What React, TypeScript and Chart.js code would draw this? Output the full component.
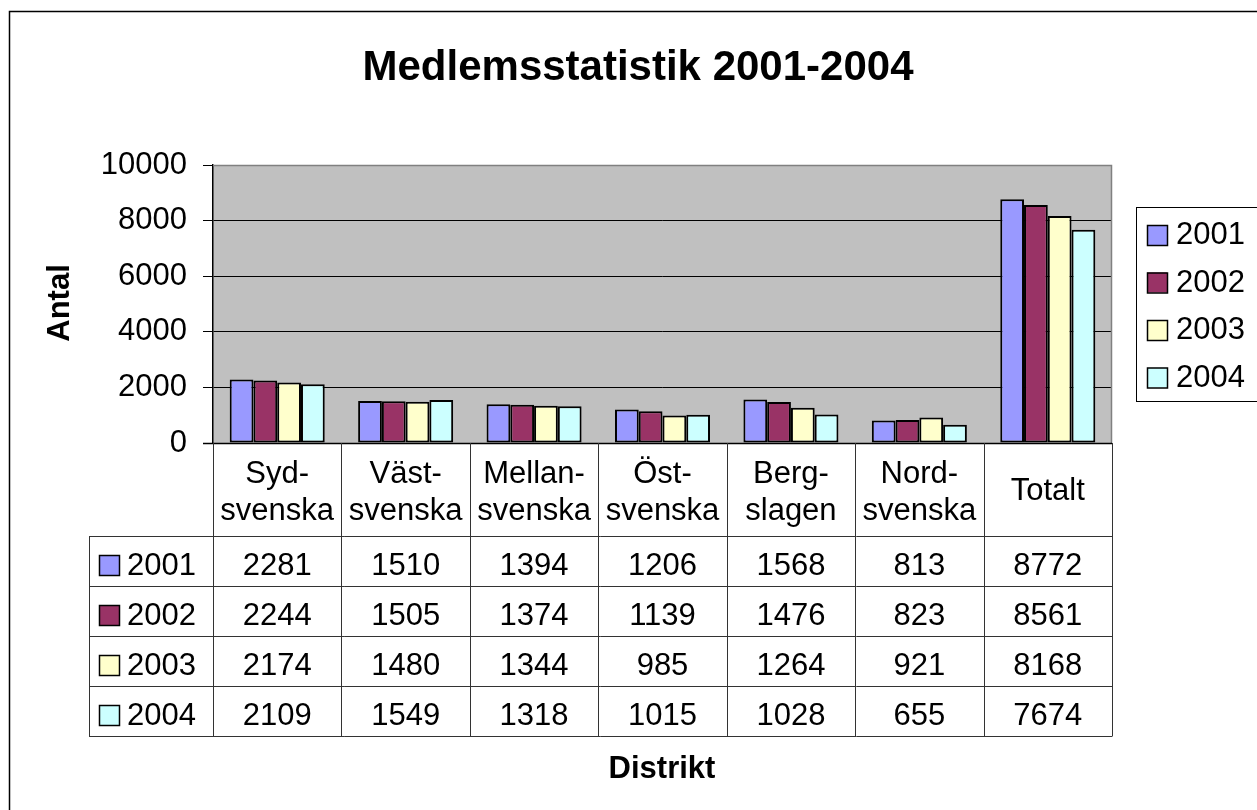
import React, { useEffect, useRef } from "react";
import { Chart, registerables } from "chart.js";
Chart.register(...registerables);

const titleText = "Medlemsstatistik 2001-2004";
const yTitle = "Antal";
const xTitle = "Distrikt";
const categories: string[][] = [
  ["Syd-", "svenska"],
  ["Väst-", "svenska"],
  ["Mellan-", "svenska"],
  ["Öst-", "svenska"],
  ["Berg-", "slagen"],
  ["Nord-", "svenska"],
  ["Totalt"],
];
const seriesNames = ["2001", "2002", "2003", "2004"];
const values2001 = [2281, 1510, 1394, 1206, 1568, 813, 8772];
const values2002 = [2244, 1505, 1374, 1139, 1476, 823, 8561];
const values2003 = [2174, 1480, 1344, 985, 1264, 921, 8168];
const values2004 = [2109, 1549, 1318, 1015, 1028, 655, 7674];
const seriesValues = [values2001, values2002, values2003, values2004];
const seriesColors = ["#9999FF", "#993366", "#FFFFCC", "#CCFFFF"];
const yMin = 0;
const yMax = 10000;
const yStep = 2000;

const FONT = "'Liberation Sans', Arial, sans-serif";
const FS = 31;

const chromePlugin = {
  id: "chrome",
  beforeDraw(chart: any) {
    const { ctx, chartArea: a } = chart;
    ctx.save();
    ctx.fillStyle = "#ffffff";
    ctx.fillRect(0, 0, chart.width, chart.height);
    ctx.fillStyle = "#C0C0C0";
    ctx.fillRect(a.left, a.top, a.right - a.left, a.bottom - a.top);
    ctx.restore();
  },
  afterDraw(chart: any) {
    const { ctx, chartArea: a } = chart;
    const xs = chart.scales.x;
    const n = categories.length;
    const colW = (a.right - a.left) / n;
    ctx.save();

    // outer chart border
    ctx.strokeStyle = "#000";
    ctx.lineWidth = 1.5;
    ctx.beginPath();
    ctx.moveTo(9.5, chart.height + 5);
    ctx.lineTo(9.5, 11.5);
    ctx.lineTo(chart.width + 5, 11.5);
    ctx.stroke();

    // plot area border (gray top + right)
    ctx.strokeStyle = "#808080";
    ctx.lineWidth = 1.5;
    ctx.beginPath();
    ctx.moveTo(a.left, a.top + 0.5);
    ctx.lineTo(a.right - 0.5, a.top + 0.5);
    ctx.lineTo(a.right - 0.5, a.bottom);
    ctx.stroke();

    // x axis line
    ctx.strokeStyle = "#000";
    ctx.lineWidth = 1.5;
    ctx.beginPath();
    ctx.moveTo(a.left - 10, Math.round(a.bottom) + 0.5);
    ctx.lineTo(a.right, Math.round(a.bottom) + 0.5);
    ctx.stroke();

    // data table
    const tableTop = Math.round(a.bottom);
    const headerBottom = 536;
    const rowH = 50;
    const tableBottom = headerBottom + rowH * seriesNames.length;
    const tableLeft = 89;
    ctx.strokeStyle = "#333";
    ctx.lineWidth = 1;
    ctx.beginPath();
    for (let i = 0; i <= n; i++) {
      const x = Math.round(a.left + i * colW) + 0.5;
      ctx.moveTo(x, tableTop);
      ctx.lineTo(x, tableBottom);
    }
    for (let r = 0; r <= seriesNames.length; r++) {
      const y = headerBottom + r * rowH + 0.5;
      ctx.moveTo(tableLeft, y);
      ctx.lineTo(Math.round(a.right) + 0.5, y);
    }
    ctx.moveTo(tableLeft + 0.5, headerBottom);
    ctx.lineTo(tableLeft + 0.5, tableBottom);
    ctx.stroke();

    ctx.fillStyle = "#000";
    ctx.font = `${FS}px ${FONT}`;
    ctx.textAlign = "center";
    ctx.textBaseline = "alphabetic";
    categories.forEach((lines, i) => {
      const cx = xs.getPixelForValue(i);
      if (lines.length === 1) {
        ctx.fillText(lines[0], cx, 500);
      } else {
        ctx.fillText(lines[0], cx, 483);
        ctx.fillText(lines[1], cx, 520);
      }
    });
    seriesNames.forEach((name, r) => {
      const base = headerBottom + r * rowH + 39;
      ctx.fillStyle = seriesColors[r];
      ctx.fillRect(99, base - 20, 20, 20);
      ctx.strokeStyle = "#000";
      ctx.lineWidth = 1.5;
      ctx.strokeRect(99.5, base - 19.5, 20, 20);
      ctx.fillStyle = "#000";
      ctx.textAlign = "left";
      ctx.fillText(name, 127, base);
      ctx.textAlign = "center";
      seriesValues[r].forEach((v, i) => {
        ctx.fillText(String(v), xs.getPixelForValue(i), base);
      });
    });

    // legend
    ctx.strokeStyle = "#000";
    ctx.lineWidth = 1;
    ctx.strokeRect(1136.5, 207.5, 200, 194);
    seriesNames.forEach((name, r) => {
      const base = 244 + r * 47.5;
      ctx.fillStyle = seriesColors[r];
      ctx.fillRect(1147, base - 19, 20, 20);
      ctx.strokeStyle = "#000";
      ctx.lineWidth = 1.5;
      ctx.strokeRect(1147.5, base - 18.5, 20, 20);
      ctx.fillStyle = "#000";
      ctx.textAlign = "left";
      ctx.fillText(name, 1176, base);
    });

    // titles
    ctx.textAlign = "center";
    ctx.font = `bold 42px ${FONT}`;
    ctx.fillText(titleText, 638, 80);
    ctx.font = `bold ${FS}px ${FONT}`;
    ctx.fillText(xTitle, 662, 778);
    ctx.save();
    ctx.translate(69, 303);
    ctx.rotate(-Math.PI / 2);
    ctx.fillText(yTitle, 0, 0);
    ctx.restore();

    ctx.restore();
  },
};

export default function App() {
  const ref = useRef<HTMLCanvasElement | null>(null);
  useEffect(() => {
    if (!ref.current) return;
    const chart = new Chart(ref.current, {
      type: "bar",
      data: {
        labels: categories,
        datasets: seriesNames.map((name, i) => ({
          label: name,
          data: seriesValues[i],
          backgroundColor: seriesColors[i],
          borderColor: "#000",
          borderWidth: 2,
          borderSkipped: false,
          barPercentage: 1,
          categoryPercentage: 0.74,
        })),
      },
      options: {
        animation: false,
        responsive: false,
        maintainAspectRatio: false,
        devicePixelRatio: 1,
        layout: { padding: { left: 0, top: 165, right: 145, bottom: 367 } },
        plugins: {
          legend: { display: false },
          title: { display: false },
          tooltip: { enabled: false },
        },
        scales: {
          x: {
            display: false,
            offset: true,
          },
          y: {
            min: yMin,
            max: yMax,
            ticks: {
              stepSize: yStep,
              color: "#000",
              font: { family: FONT, size: FS },
              padding: 16,
              callback: (v: any) => String(v),
            },
            grid: {
              color: (c: any) => (c.tick && c.tick.value === yMax ? "#808080" : "#000"),
              tickColor: "#000",
              tickLength: 10,
              lineWidth: 1,
            },
            border: { display: true, color: "#000", width: 1.5 },
            afterFit: (scale: any) => {
              scale.width = 213;
            },
          },
        },
      },
      plugins: [chromePlugin],
    });
    return () => chart.destroy();
  }, []);
  return (
    <div style={{ position: "fixed", left: 0, top: 0, width: 1257, height: 810, background: "#fff" }}>
      <canvas ref={ref} width={1257} height={810} style={{ display: "block", width: 1257, height: 810 }} />
    </div>
  );
}
